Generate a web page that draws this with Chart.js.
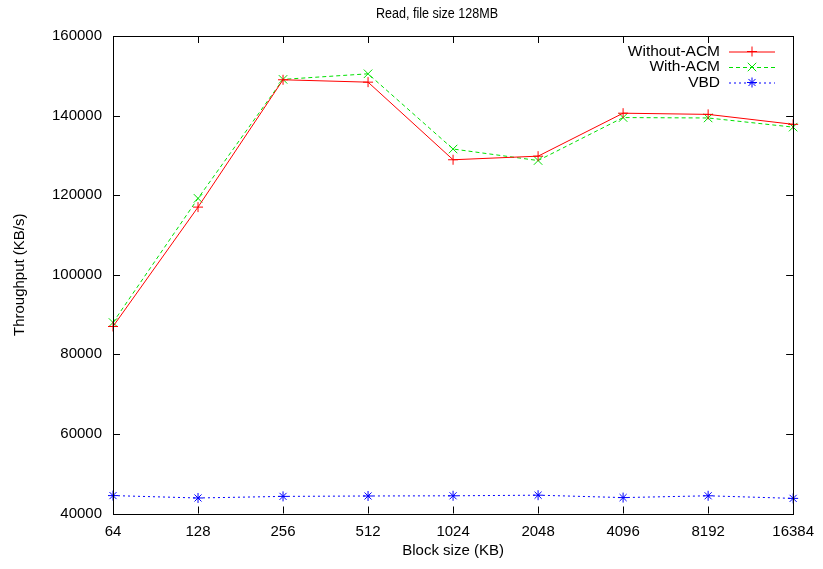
<!DOCTYPE html>
<html>
<head>
<meta charset="utf-8">
<script src="https://cdn.jsdelivr.net/npm/chart.js@4/dist/chart.umd.min.js"></script>
<style>
  html, body { margin: 0; padding: 0; background: #fff; }
  #wrap { width: 823px; height: 569px; }
</style>
</head>
<body>
<div id="wrap"><canvas id="chart" width="823" height="569"></canvas></div>
<script>
// data
const blockSizes = ["64", "128", "256", "512", "1024", "2048", "4096", "8192", "16384"];
const withoutAcm = [87000, 117000, 149000, 148400, 128900, 129800, 140600, 140300, 137800];
const withAcm = [88000, 119200, 149100, 150500, 131600, 128700, 139500, 139400, 137100];
const vbd = [44500, 43900, 44300, 44400, 44450, 44600, 44000, 44450, 43800];
const yTicks = [40000, 60000, 80000, 100000, 120000, 140000, 160000];
const chartTitle = "Read, file size 128MB";

const FONT = "'Liberation Sans', Arial, sans-serif";

// gnuplot style: title, border + inward ticks on all sides, legend top right
const framePlugin = {
  id: "frame",
  afterDraw(chart) {
    const ctx = chart.ctx;
    const a = chart.chartArea;
    const x = chart.scales.x, y = chart.scales.y;
    const len = 7;
    ctx.save();

    // title (gnuplot font is narrower, squeeze it a bit)
    ctx.font = "15.5px " + FONT;
    ctx.fillStyle = "#000";
    ctx.textAlign = "center";
    ctx.textBaseline = "middle";
    const tw = ctx.measureText(chartTitle).width;
    ctx.save();
    ctx.translate(437, 14);
    ctx.scale(122 / tw, 1);
    ctx.fillText(chartTitle, 0, 0);
    ctx.restore();

    ctx.strokeStyle = "#000";
    ctx.lineWidth = 1;
    ctx.beginPath();
    yTicks.forEach(v => {
      const py = Math.round(y.getPixelForValue(v)) + 0.5;
      ctx.moveTo(a.left, py); ctx.lineTo(a.left + len, py);
      ctx.moveTo(a.right, py); ctx.lineTo(a.right - len, py);
    });
    blockSizes.forEach((_, i) => {
      const px = Math.round(x.getPixelForValue(i)) + 0.5;
      ctx.moveTo(px, a.bottom); ctx.lineTo(px, a.bottom - len);
      ctx.moveTo(px, a.top); ctx.lineTo(px, a.top + len);
    });
    ctx.stroke();
    ctx.strokeRect(Math.round(a.left) + 0.5, Math.round(a.top) + 0.5,
      Math.round(a.right - a.left), Math.round(a.bottom - a.top));

    // legend
    ctx.font = "15.5px " + FONT;
    ctx.textAlign = "right";
    ctx.textBaseline = "middle";
    chart.data.datasets.forEach((ds, i) => {
      const ly = 51.5 + i * 15.5;
      ctx.fillStyle = "#000";
      ctx.fillText(ds.label, 720, ly);
      ctx.strokeStyle = ds.borderColor;
      ctx.lineWidth = 1;
      ctx.setLineDash(ds.borderDash || []);
      ctx.beginPath();
      ctx.moveTo(729, ly + 0.5); ctx.lineTo(775, ly + 0.5);
      ctx.stroke();
      ctx.setLineDash([]);
      Chart.helpers.drawPoint(ctx, {
        pointStyle: ds.pointStyle, radius: ds.pointRadius, rotation: 0, borderWidth: 1
      }, 752, ly);
    });
    ctx.restore();
  }
};

function makeSet(label, data, color, dash, style, r) {
  return {
    label: label,
    data: data,
    borderColor: color,
    backgroundColor: color,
    borderWidth: 1,
    borderDash: dash,
    pointStyle: style,
    pointRadius: r,
    pointBorderWidth: 1,
    pointBorderColor: color,
    tension: 0,
    fill: false
  };
}

new Chart(document.getElementById("chart"), {
  type: "line",
  data: {
    labels: blockSizes,
    datasets: [
      makeSet("Without-ACM", withoutAcm, "#ff0000", [], "cross", 5),
      makeSet("With-ACM", withAcm, "#00e000", [4, 3], "crossRot", 6),
      makeSet("VBD", vbd, "#0000ff", [2, 3], "star", 5)
    ]
  },
  options: {
    responsive: false,
    animation: false,
    layout: { padding: { left: 0, right: 29, top: 36, bottom: 0 } },
    plugins: {
      legend: { display: false },
      tooltip: { enabled: false },
      title: { display: false }
    },
    scales: {
      x: {
        offset: false,
        grid: { display: false, drawTicks: false },
        border: { display: false },
        ticks: { color: "#000", font: { family: FONT, size: 15 }, padding: 9, maxRotation: 0, autoSkip: false },
        title: {
          display: true,
          text: "Block size (KB)",
          color: "#000",
          font: { family: FONT, size: 15 },
          padding: { top: 0, bottom: 9 }
        },
        afterFit(scale) { scale.height = 55.5; }
      },
      y: {
        min: 40000,
        max: 160000,
        grid: { display: false, drawTicks: false },
        border: { display: false },
        ticks: {
          stepSize: 20000,
          color: "#000",
          font: { family: FONT, size: 15 },
          padding: 11,
          callback: v => String(v)
        },
        title: {
          display: true,
          text: "Throughput (KB/s)",
          color: "#000",
          font: { family: FONT, size: 15 },
          padding: { top: 11, bottom: 0 }
        },
        afterFit(scale) { scale.width = 113; }
      }
    }
  },
  plugins: [framePlugin]
});
</script>
</body>
</html>
